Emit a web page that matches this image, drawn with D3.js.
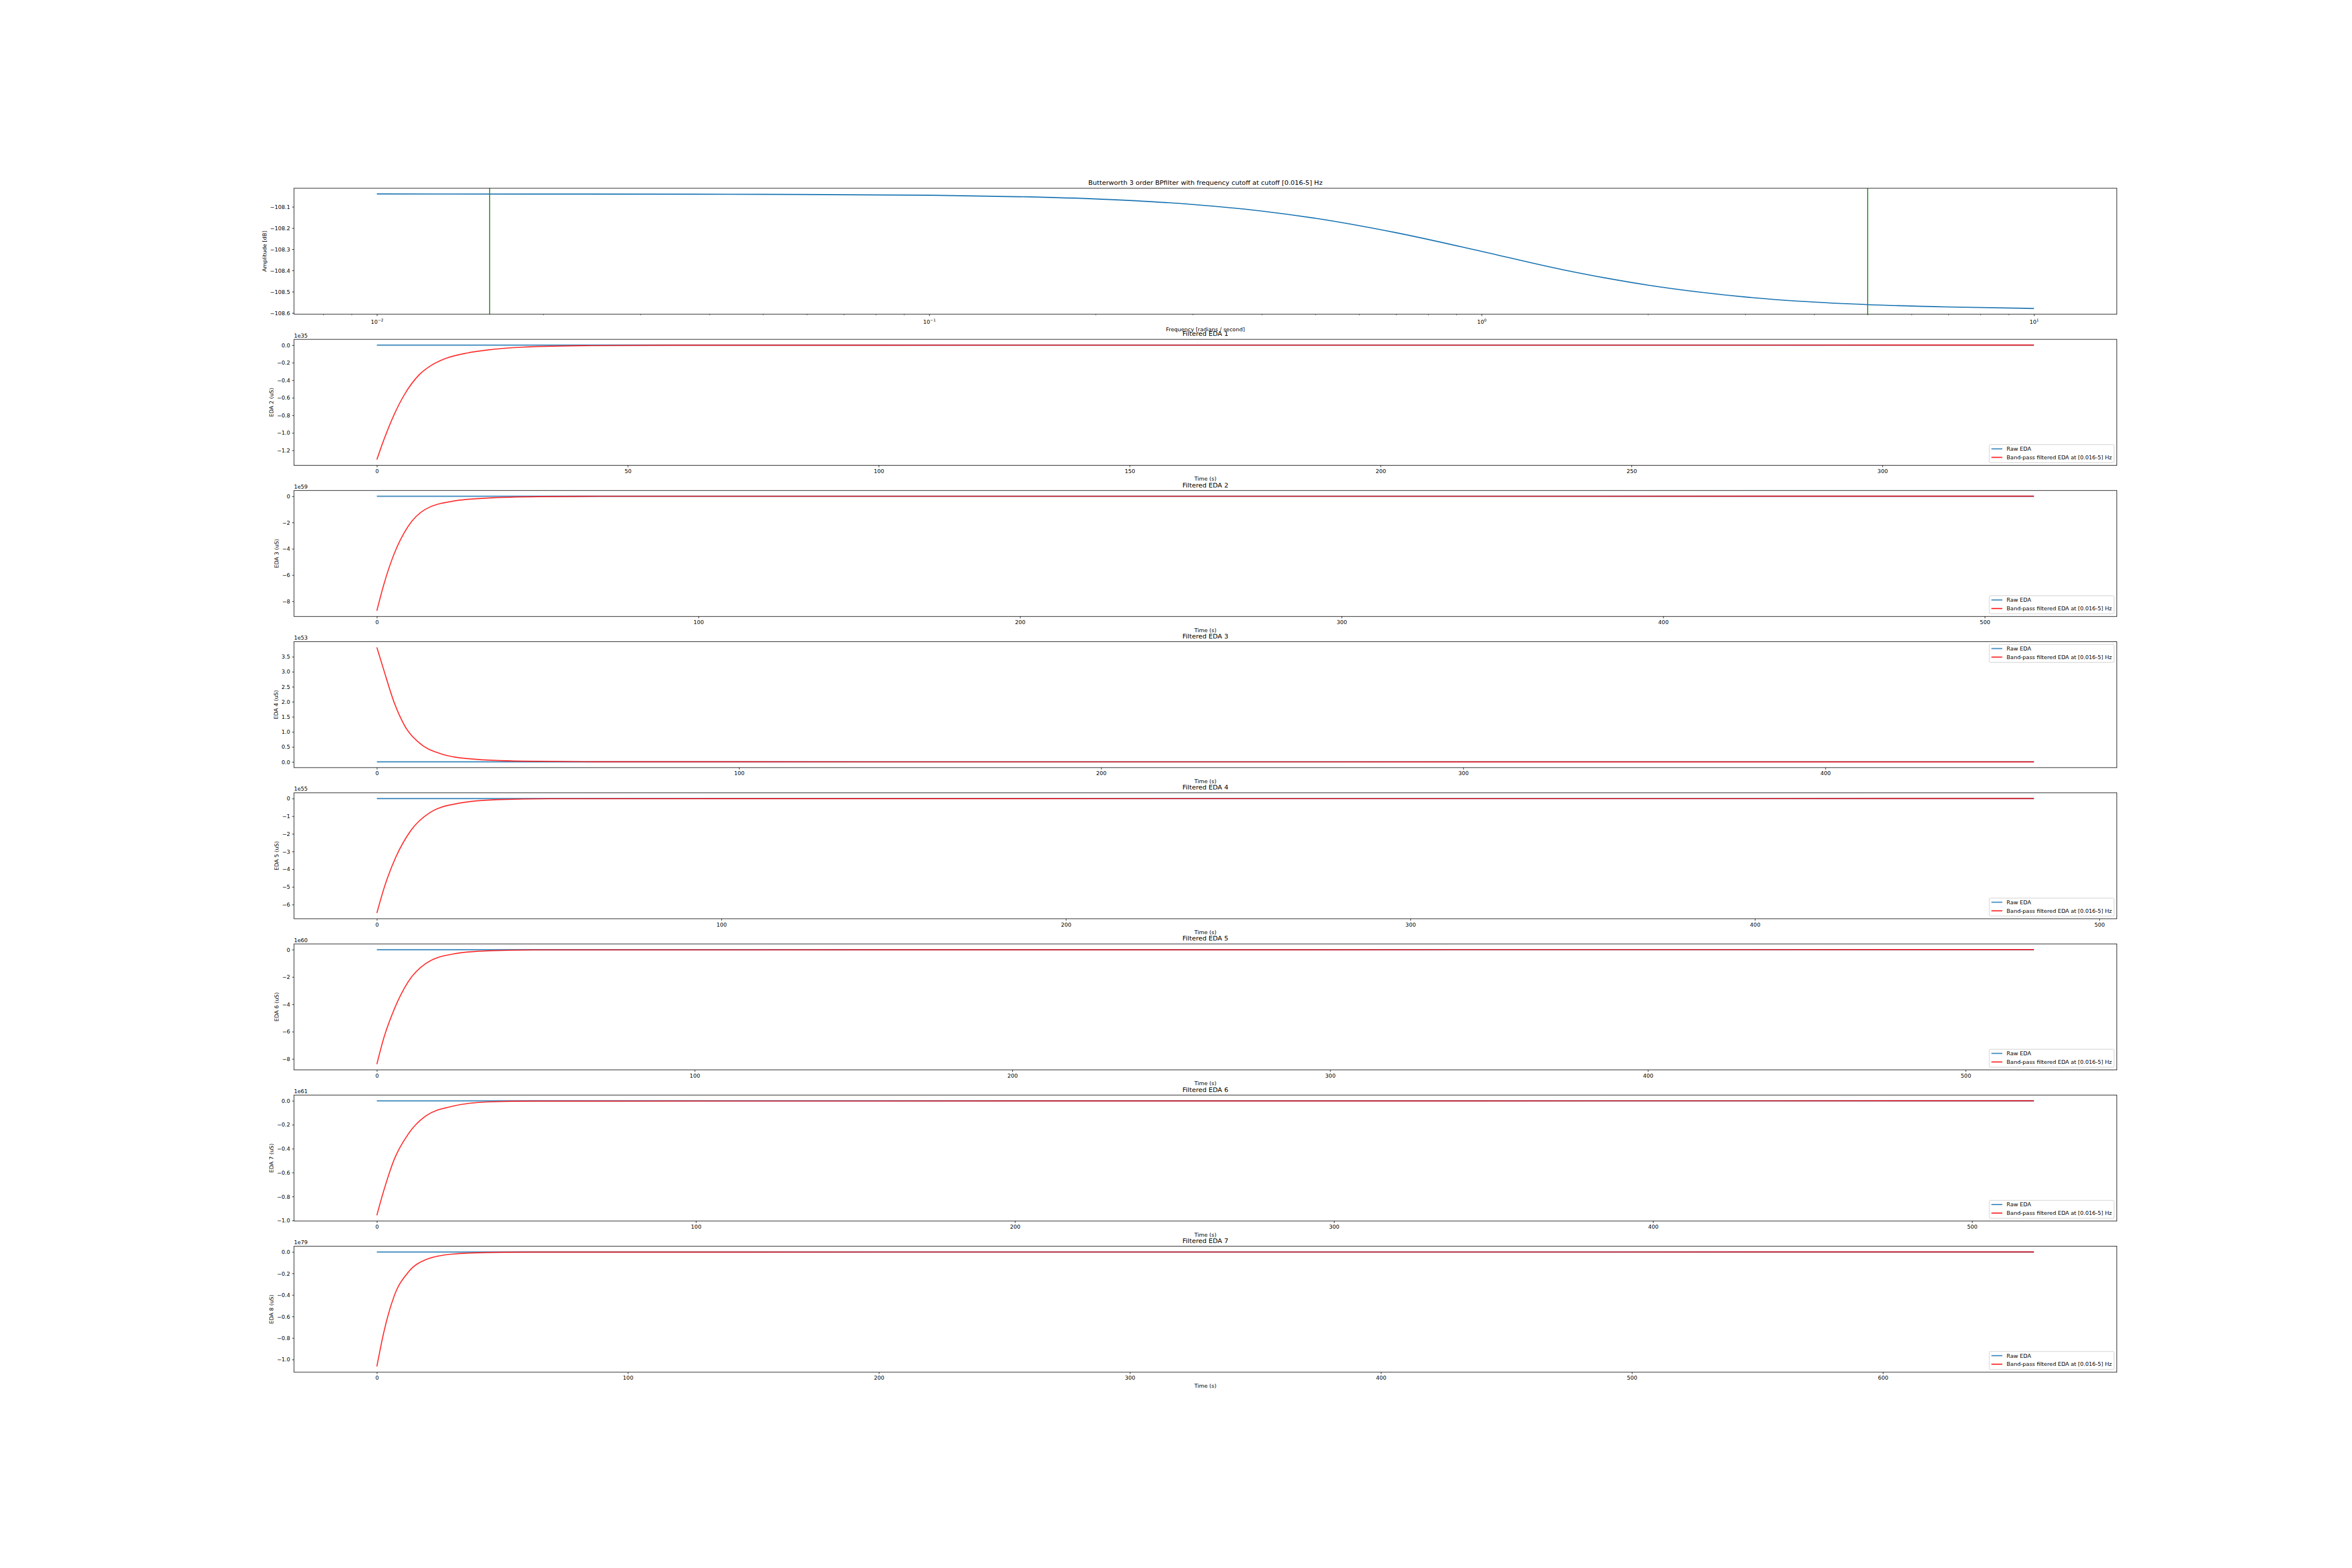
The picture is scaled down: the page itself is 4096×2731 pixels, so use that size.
<!DOCTYPE html>
<html>
<head>
<meta charset="utf-8">
<script src="https://cdn.jsdelivr.net/npm/d3@7"></script>
<style>
  body { margin: 0; background: #ffffff; }
  text { font-family: "DejaVu Sans", sans-serif; fill: #000; }
</style>
</head>
<body>
<script>
// ---------------- DATA ----------------
// Top panel: frequency response
const chartTitle = "Butterworth 3 order  BPfilter with frequency cutoff at cutoff [0.016-5] Hz";
const freqHz = [0.01, 0.02, 0.05, 0.1, 0.15, 0.2, 0.3, 0.4, 0.5, 0.7, 1.0, 1.4, 2.0, 2.5, 3.0, 4.0, 5.0, 7.0, 10.0];
const ampDb  = [-108.0395, -108.0398, -108.0413, -108.0455, -108.0530, -108.0630, -108.0890, -108.1200, -108.1540, -108.2220, -108.3100, -108.3960, -108.4690, -108.5030, -108.5250, -108.5490, -108.5610, -108.5720, -108.5790];
const cutoffHz = [0.016, 5];
const freqMajorTicks = [0.01, 0.1, 1, 10];
const freqTickExp = ["\u22122", "\u22121", "0", "1"];
const ampTicks = [-108.1, -108.2, -108.3, -108.4, -108.5, -108.6];

// EDA panels
const edaTitles  = ["Filtered EDA 1", "Filtered EDA 2", "Filtered EDA 3", "Filtered EDA 4", "Filtered EDA 5", "Filtered EDA 6", "Filtered EDA 7"];
const edaYLabels = ["EDA 2 (uS)", "EDA 3 (uS)", "EDA 4 (uS)", "EDA 5 (uS)", "EDA 6 (uS)", "EDA 7 (uS)", "EDA 8 (uS)"];
const edaOffsets = ["1e35", "1e59", "1e53", "1e55", "1e60", "1e61", "1e79"];
const legendLabels = ["Raw EDA", "Band-pass filtered EDA at [0.016-5] Hz"];
const legendPlace = ["lower", "lower", "upper", "lower", "lower", "lower", "lower"];

// raw EDA (negligible at these scales) : [time s, value in offset units]
const raw1 = [[0, 0], [330.2, 0]];
const raw2 = [[0, 0], [515.3, 0]];
const raw3 = [[0, 0], [457.6, 0]];
const raw4 = [[0, 0], [481.0, 0]];
const raw5 = [[0, 0], [521.5, 0]];
const raw6 = [[0, 0], [519.4, 0]];
const raw7 = [[0, 0], [660.2, 0]];

// band-pass filtered EDA : [time s, value in offset units]
const filt1 = [[0, -1.305], [1.39, -1.08], [3.46, -0.79], [5.54, -0.56], [8.4, -0.34], [11, -0.225], [13.84, -0.15], [18, -0.09], [22.1, -0.055], [29, -0.023], [36, -0.011], [43, -0.005], [60, -0.001], [330.2, 0]];
const filt2 = [[0, -8.72], [2.17, -6.72], [5.4, -4.37], [9.7, -2.30], [15.1, -0.99], [23.8, -0.37], [34.5, -0.14], [50, -0.03], [70, -0.005], [515.3, 0]];
const filt3 = [[0, 3.81], [1.93, 3.05], [4.8, 1.97], [7.7, 1.20], [11.6, 0.645], [17.3, 0.284], [25.9, 0.10], [40.3, 0.024], [60, 0.004], [457.6, 0]];
const filt4 = [[0, -6.48], [2.2, -5.0], [5.5, -3.32], [9.8, -1.83], [15.3, -0.81], [24, -0.26], [35, -0.065], [50, -0.01], [481.0, 0]];
const filt5 = [[0, -8.38], [2.19, -6.46], [5.5, -4.34], [9.83, -2.36], [15.3, -1.03], [24.1, -0.31], [35, -0.08], [50, -0.015], [521.5, 0]];
const filt6 = [[0, -0.957], [2.18, -0.75], [5.44, -0.49], [9.8, -0.279], [15.3, -0.127], [24, -0.044], [34.9, -0.009], [50, -0.002], [519.4, 0]];
const filt7 = [[0, -1.064], [2.78, -0.745], [6.92, -0.408], [12.45, -0.19], [19.4, -0.072], [30.4, -0.019], [44.2, -0.005], [60, -0.001], [660.2, 0]];

const xTicks1 = [0, 50, 100, 150, 200, 250, 300];
const xTicks2 = [0, 100, 200, 300, 400, 500];
const xTicks3 = [0, 100, 200, 300, 400];
const xTicks4 = [0, 100, 200, 300, 400, 500];
const xTicks5 = [0, 100, 200, 300, 400, 500];
const xTicks6 = [0, 100, 200, 300, 400, 500];
const xTicks7 = [0, 100, 200, 300, 400, 500, 600];

const yTicks1 = [0, -0.2, -0.4, -0.6, -0.8, -1.0, -1.2];
const yTicks2 = [0, -2, -4, -6, -8];
const yTicks3 = [0, 0.5, 1.0, 1.5, 2.0, 2.5, 3.0, 3.5];
const yTicks4 = [0, -1, -2, -3, -4, -5, -6];
const yTicks5 = [0, -2, -4, -6, -8];
const yTicks6 = [0, -0.2, -0.4, -0.6, -0.8, -1.0];
const yTicks7 = [0, -0.2, -0.4, -0.6, -0.8, -1.0];
const yFormats = [".1f", "d", ".1f", "d", "d", ".1f", ".1f"];

const rawSeries = [raw1, raw2, raw3, raw4, raw5, raw6, raw7];
const filtSeries = [filt1, filt2, filt3, filt4, filt5, filt6, filt7];
const xTickSets = [xTicks1, xTicks2, xTicks3, xTicks4, xTicks5, xTicks6, xTicks7];
const yTickSets = [yTicks1, yTicks2, yTicks3, yTicks4, yTicks5, yTicks6, yTicks7];

// ---------------- LAYOUT ----------------
const W = 4320, H = 2880;
const L = 540, R = 3888;
const TOP0 = 345.6, PH = 231.37, STEP = 277.64;
const BLUE = "#1f77b4", RED = "#ff0000", GREEN = "#008000";
const FS = 10, TFS = 12;

const svg = d3.select("body").append("svg")
  .attr("width", 4096).attr("height", 2731)
  .attr("viewBox", `0 0 ${W} ${H}`);
svg.append("rect").attr("width", W).attr("height", H).attr("fill", "#fff");

function padExtent(vals) {
  const [a, b] = d3.extent(vals);
  const d = (b - a) * 0.05;
  return [a - d, b + d];
}

function styleAxis(g) {
  g.select(".domain").remove();
  g.selectAll(".tick line").attr("stroke", "#000").attr("stroke-width", 0.9);
  g.selectAll(".tick text").attr("font-size", FS).attr("font-family", "DejaVu Sans").attr("fill", "#000");
}

function frame(top) {
  svg.append("rect").attr("x", L).attr("y", top).attr("width", R - L).attr("height", PH)
    .attr("fill", "none").attr("stroke", "#222").attr("stroke-width", 1.1);
}

function yLabel(axisG, top, text) {
  let left = Infinity;
  axisG.selectAll(".tick text").each(function () {
    const b = this.getBBox();
    left = Math.min(left, b.x);
  });
  left = L + left;
  const x = left - 4 - 2.4;
  svg.append("text").attr("transform", `translate(${x},${top + PH / 2}) rotate(-90)`)
    .attr("text-anchor", "middle").attr("font-size", FS).text(text);
}

// ---------------- TOP PANEL ----------------
{
  const top = TOP0, bottom = TOP0 + PH;
  const lx = d3.extent(freqHz).map(Math.log10);
  const dl = (lx[1] - lx[0]) * 0.05;
  const x = d3.scaleLog().domain([Math.pow(10, lx[0] - dl), Math.pow(10, lx[1] + dl)]).range([L, R]);
  const y = d3.scaleLinear().domain(padExtent(ampDb)).range([bottom, top]);

  // green cutoff lines
  svg.selectAll(".cut").data(cutoffHz).join("line")
    .attr("x1", d => x(d)).attr("x2", d => x(d)).attr("y1", top).attr("y2", bottom)
    .attr("stroke", GREEN).attr("stroke-width", 1.6);

  const line = d3.line().x(d => x(d[0])).y(d => y(d[1])).curve(d3.curveMonotoneX);
  svg.append("path").datum(freqHz.map((f, i) => [f, ampDb[i]]))
    .attr("d", line).attr("fill", "none").attr("stroke", BLUE).attr("stroke-width", 2);

  frame(top);

  // minor ticks
  const dom = x.domain();
  const minor = [];
  for (let e = -3; e <= 1; e++) for (let m = 2; m <= 9; m++) {
    const v = m * Math.pow(10, e);
    if (v >= dom[0] && v <= dom[1]) minor.push(v);
  }
  const gMin = svg.append("g").attr("transform", `translate(0,${bottom})`)
    .call(d3.axisBottom(x).tickValues(minor).tickSize(2).tickFormat(""));
  styleAxis(gMin);
  gMin.selectAll(".tick line").attr("stroke-width", 0.7);

  const gMaj = svg.append("g").attr("transform", `translate(0,${bottom})`)
    .call(d3.axisBottom(x).tickValues(freqMajorTicks).tickSize(3.5).tickPadding(3.5).tickFormat(""));
  styleAxis(gMaj);
  gMaj.selectAll(".tick").each(function (d, i) {
    const t = d3.select(this).append("text").attr("y", 18).attr("text-anchor", "middle")
      .attr("font-size", FS).attr("fill", "#000");
    t.append("tspan").text("10");
    t.append("tspan").attr("font-size", 7).attr("dy", -4.5).text(freqTickExp[i]);
  });

  const gy = svg.append("g").attr("transform", `translate(${L},0)`)
    .call(d3.axisLeft(y).tickValues(ampTicks).tickSize(3.5).tickPadding(3.5).tickFormat(d3.format(".1f")));
  styleAxis(gy);
  yLabel(gy, top, "Amplitude [dB]");

  svg.append("text").attr("x", (L + R) / 2).attr("y", top - 6).attr("text-anchor", "middle")
    .attr("font-size", TFS).text(chartTitle);
  svg.append("text").attr("x", (L + R) / 2).attr("y", bottom + 31.5).attr("text-anchor", "middle")
    .attr("font-size", FS).text("Frequency [radians / second]");
}

// ---------------- EDA PANELS ----------------
for (let k = 0; k < 7; k++) {
  const top = TOP0 + (k + 1) * STEP, bottom = top + PH;
  const raw = rawSeries[k], filt = filtSeries[k];
  const allT = raw.map(d => d[0]).concat(filt.map(d => d[0]));
  const allV = raw.map(d => d[1]).concat(filt.map(d => d[1]));
  const x = d3.scaleLinear().domain(padExtent(allT)).range([L, R]);
  const y = d3.scaleLinear().domain(padExtent(allV)).range([bottom, top]);
  const line = d3.line().x(d => x(d[0])).y(d => y(d[1])).curve(d3.curveMonotoneX);

  svg.append("path").datum(raw).attr("d", line).attr("fill", "none")
    .attr("stroke", BLUE).attr("stroke-opacity", 0.8).attr("stroke-width", 2.4);
  svg.append("path").datum(filt).attr("d", line).attr("fill", "none")
    .attr("stroke", RED).attr("stroke-opacity", 0.8).attr("stroke-width", 2.0);

  frame(top);

  const gx = svg.append("g").attr("transform", `translate(0,${bottom})`)
    .call(d3.axisBottom(x).tickValues(xTickSets[k]).tickSize(3.5).tickPadding(3.5).tickFormat(d3.format("d")));
  styleAxis(gx);
  const gy = svg.append("g").attr("transform", `translate(${L},0)`)
    .call(d3.axisLeft(y).tickValues(yTickSets[k]).tickSize(3.5).tickPadding(3.5).tickFormat(d3.format(yFormats[k])));
  styleAxis(gy);
  yLabel(gy, top, edaYLabels[k]);

  svg.append("text").attr("x", L).attr("y", top - 3.5).attr("font-size", FS).text(edaOffsets[k]);
  svg.append("text").attr("x", (L + R) / 2).attr("y", top - 6).attr("text-anchor", "middle")
    .attr("font-size", TFS).text(edaTitles[k]);
  svg.append("text").attr("x", (L + R) / 2).attr("y", bottom + 28.5).attr("text-anchor", "middle")
    .attr("font-size", FS).text("Time (s)");

  // legend
  const lg = svg.append("g");
  const t1 = lg.append("text").attr("font-size", FS).text(legendLabels[0]);
  const t2 = lg.append("text").attr("font-size", FS).text(legendLabels[1]);
  const tw = Math.max(t1.node().getComputedTextLength(), t2.node().getComputedTextLength());
  const bw = 4 + 20 + 8 + tw + 4, bh = 33;
  const bx = R - 5 - bw;
  const by = legendPlace[k] === "upper" ? top + 5 : bottom - 5 - bh;
  lg.insert("rect", "text").attr("x", bx).attr("y", by).attr("width", bw).attr("height", bh)
    .attr("rx", 2).attr("fill", "#fff").attr("fill-opacity", 0.8)
    .attr("stroke", "#cccccc").attr("stroke-width", 1);
  const rows = [[BLUE, by + 7.7, t1, by + 11.3], [RED, by + 23.4, t2, by + 27.0]];
  rows.forEach(([c, ly, t, ty]) => {
    lg.append("line").attr("x1", bx + 4).attr("x2", bx + 24).attr("y1", ly).attr("y2", ly)
      .attr("stroke", c).attr("stroke-opacity", 0.8).attr("stroke-width", 2.2);
    t.attr("x", bx + 32).attr("y", ty);
  });
}
</script>
</body>
</html>
